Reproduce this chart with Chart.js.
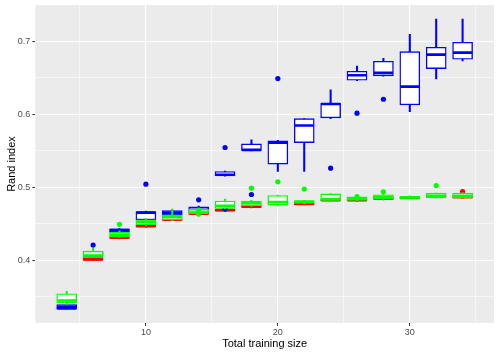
<!DOCTYPE html>
<html>
<head>
<meta charset="utf-8">
<script src="https://cdn.jsdelivr.net/npm/chart.js@4.4.1/dist/chart.umd.min.js"></script>
<style>
  html, body { margin: 0; padding: 0; background: #fff; }
  #wrap { width: 498px; height: 355px; position: relative; }
</style>
</head>
<body>
<div id="wrap"><canvas id="chart"></canvas></div>
<script>
// training sizes (x positions of the boxes)
const sizes = [4, 6, 8, 10, 12, 14, 16, 18, 20, 22, 24, 26, 28, 30, 32, 34];

// red group
const redLow  = [0.3320, 0.3990, 0.4290, 0.4450, 0.4540, 0.4620, 0.4665, 0.4715, 0.4770, 0.4755, 0.4810, 0.4805, 0.4825, 0.4840, 0.4860, 0.4845];
const redQ1   = [0.3325, 0.3995, 0.4295, 0.4455, 0.4545, 0.4625, 0.4670, 0.4720, 0.4775, 0.4760, 0.4815, 0.4810, 0.4830, 0.4845, 0.4865, 0.4850];
const redMed  = [0.3333, 0.4010, 0.4305, 0.4465, 0.4555, 0.4635, 0.4685, 0.4730, 0.4780, 0.4770, 0.4820, 0.4820, 0.4845, 0.4850, 0.4870, 0.4865];
const redQ3   = [0.3340, 0.4035, 0.4315, 0.4480, 0.4570, 0.4650, 0.4700, 0.4745, 0.4790, 0.4780, 0.4830, 0.4835, 0.4860, 0.4860, 0.4880, 0.4880];
const redHigh = [0.3350, 0.4040, 0.4320, 0.4485, 0.4575, 0.4655, 0.4705, 0.4750, 0.4795, 0.4785, 0.4835, 0.4840, 0.4865, 0.4865, 0.4885, 0.4885];
const redOut  = [[34, 0.4940]];

// green group
const greenLow  = [0.3390, 0.4035, 0.4310, 0.4475, 0.4540, 0.4630, 0.4705, 0.4735, 0.4750, 0.4770, 0.4810, 0.4810, 0.4830, 0.4840, 0.4850, 0.4850];
const greenQ1   = [0.3415, 0.4049, 0.4315, 0.4484, 0.4550, 0.4646, 0.4707, 0.4744, 0.4753, 0.4775, 0.4816, 0.4816, 0.4836, 0.4845, 0.4853, 0.4853];
const greenMed  = [0.3445, 0.4063, 0.4347, 0.4525, 0.4590, 0.4650, 0.4744, 0.4780, 0.4795, 0.4800, 0.4835, 0.4840, 0.4863, 0.4858, 0.4880, 0.4880];
const greenQ3   = [0.3538, 0.4123, 0.4384, 0.4552, 0.4620, 0.4695, 0.4810, 0.4810, 0.4885, 0.4815, 0.4908, 0.4867, 0.4895, 0.4875, 0.4918, 0.4920];
const greenHigh = [0.3570, 0.4164, 0.4400, 0.4570, 0.4700, 0.4710, 0.4836, 0.4820, 0.4890, 0.4820, 0.4910, 0.4870, 0.4900, 0.4880, 0.4920, 0.4925];
const greenOut  = [[8, 0.4490], [14, 0.4685], [14, 0.4630], [18, 0.4986], [20, 0.5073], [22, 0.4973], [26, 0.4870], [28, 0.4936], [32, 0.5022]];

// blue group
const blueLow  = [0.3330, 0.4045, 0.4380, 0.4540, 0.4610, 0.4660, 0.5150, 0.5495, 0.5214, 0.5214, 0.5940, 0.6460, 0.6520, 0.6036, 0.6484, 0.6730];
const blueQ1   = [0.3333, 0.4050, 0.4384, 0.4550, 0.4620, 0.4666, 0.5155, 0.5500, 0.5315, 0.5610, 0.5950, 0.6466, 0.6525, 0.6127, 0.6625, 0.6753];
const blueMed  = [0.3355, 0.4070, 0.4410, 0.4650, 0.4650, 0.4690, 0.5170, 0.5510, 0.5610, 0.5844, 0.6140, 0.6534, 0.6566, 0.6378, 0.6817, 0.6844];
const blueQ3   = [0.3388, 0.4110, 0.4427, 0.4666, 0.4680, 0.4730, 0.5214, 0.5593, 0.5634, 0.5940, 0.6150, 0.6589, 0.6726, 0.6858, 0.6918, 0.6986];
const blueHigh = [0.3390, 0.4120, 0.4430, 0.4670, 0.4690, 0.4740, 0.5220, 0.5648, 0.5640, 0.5940, 0.6333, 0.6660, 0.6767, 0.7096, 0.7305, 0.7305];
const blueOut  = [[6, 0.4205], [10, 0.5040], [14, 0.4826], [16, 0.5543], [16, 0.4699], [18, 0.4899], [20, 0.6488], [24, 0.5260], [26, 0.6014], [28, 0.6205]];

// axis ticks
const xTicks = [5, 10, 15, 20, 25, 30, 35];
const yTicks = [0.35, 0.4, 0.45, 0.5, 0.55, 0.6, 0.65, 0.7];

const FONT = '"Liberation Sans", Arial, sans-serif';

// one boxplot group = whiskers + boxes + medians + outliers
function boxGroup(color, lo, q1, med, q3, hi, outliers, order) {
  return [
    {
      type: 'bar',
      data: sizes.map((x, i) => ({ x: x, y: [lo[i], hi[i]] })),
      backgroundColor: color,
      borderWidth: 0,
      barThickness: 1.4,
      grouped: false,
      order: order + 3
    },
    {
      type: 'bar',
      data: sizes.map((x, i) => ({ x: x, y: [q1[i], q3[i]] })),
      backgroundColor: '#ffffff',
      borderColor: color,
      borderWidth: 1.4,
      borderSkipped: false,
      barThickness: 20,
      grouped: false,
      order: order + 2
    },
    {
      type: 'scatter',
      data: sizes.map((x, i) => ({ x: x, y: med[i] })),
      pointStyle: 'line',
      pointRadius: 9.5,
      pointBorderColor: color,
      pointBorderWidth: 2.6,
      order: order + 1
    },
    {
      type: 'scatter',
      data: outliers.map(p => ({ x: p[0], y: p[1] })),
      pointRadius: 2.6,
      pointBackgroundColor: color,
      pointBorderWidth: 0,
      order: order
    }
  ];
}

// grey panel like ggplot
const panelBg = {
  id: 'panelBg',
  beforeDraw(chart) {
    const { ctx, chartArea: a } = chart;
    ctx.save();
    ctx.fillStyle = '#EBEBEB';
    ctx.fillRect(a.left, a.top, a.right - a.left, a.bottom - a.top);
    ctx.restore();
  }
};

const isMajorX = v => v % 10 === 0;
const isMajorY = v => Math.abs(v * 10 - Math.round(v * 10)) < 1e-6;

new Chart(document.getElementById('chart'), {
  type: 'bar',
  data: {
    datasets: [
      ...boxGroup('#FF0000', redLow, redQ1, redMed, redQ3, redHigh, redOut, 20),
      ...boxGroup('#0000FF', blueLow, blueQ1, blueMed, blueQ3, blueHigh, blueOut, 10),
      ...boxGroup('#00FF00', greenLow, greenQ1, greenMed, greenQ3, greenHigh, greenOut, 0)
    ]
  },
  options: {
    responsive: true,
    maintainAspectRatio: false,
    animation: false,
    events: [],
    layout: { autoPadding: false, padding: { top: 5, right: 4, left: 0, bottom: 0 } },
    plugins: {
      legend: { display: false },
      tooltip: { enabled: false }
    },
    scales: {
      x: {
        type: 'linear',
        min: 1.62,
        max: 36.38,
        offset: false,
        afterBuildTicks: axis => { axis.ticks = xTicks.map(v => ({ value: v })); },
        afterFit: axis => {
          axis.height = 32;
          axis.paddingLeft = 0;
          axis.paddingRight = 0;
        },
        border: { display: false },
        grid: {
          offset: false,
          color: '#ffffff',
          lineWidth: c => (c.tick && isMajorX(c.tick.value)) ? 1.1 : 0.55,
          tickColor: c => (c.tick && isMajorX(c.tick.value)) ? '#333333' : 'rgba(0,0,0,0)',
          tickWidth: 1,
          tickLength: 3
        },
        ticks: {
          autoSkip: false,
          maxRotation: 0,
          padding: 1,
          color: '#4D4D4D',
          font: { family: FONT, size: 9 },
          callback: v => isMajorX(v) ? String(v) : ''
        },
        title: {
          display: true,
          text: 'Total training size',
          color: '#000000',
          font: { family: FONT, size: 11 },
          padding: { top: 1, bottom: 4 }
        }
      },
      y: {
        type: 'linear',
        min: 0.3137,
        max: 0.7497,
        afterBuildTicks: axis => { axis.ticks = yTicks.map(v => ({ value: v })); },
        afterFit: axis => {
          axis.width = 35.3;
          axis.paddingTop = 0;
          axis.paddingBottom = 0;
        },
        border: { display: false },
        grid: {
          color: '#ffffff',
          lineWidth: c => (c.tick && isMajorY(c.tick.value)) ? 1.1 : 0.55,
          tickColor: c => (c.tick && isMajorY(c.tick.value)) ? '#333333' : 'rgba(0,0,0,0)',
          tickWidth: 1,
          tickLength: 3
        },
        ticks: {
          padding: 2,
          color: '#4D4D4D',
          font: { family: FONT, size: 9 },
          callback: v => isMajorY(v) ? v.toFixed(1) : ''
        },
        title: {
          display: true,
          text: 'Rand index',
          color: '#000000',
          font: { family: FONT, size: 11 },
          padding: { top: 5, bottom: 2 }
        }
      }
    }
  },
  plugins: [panelBg]
});
</script>
</body>
</html>
